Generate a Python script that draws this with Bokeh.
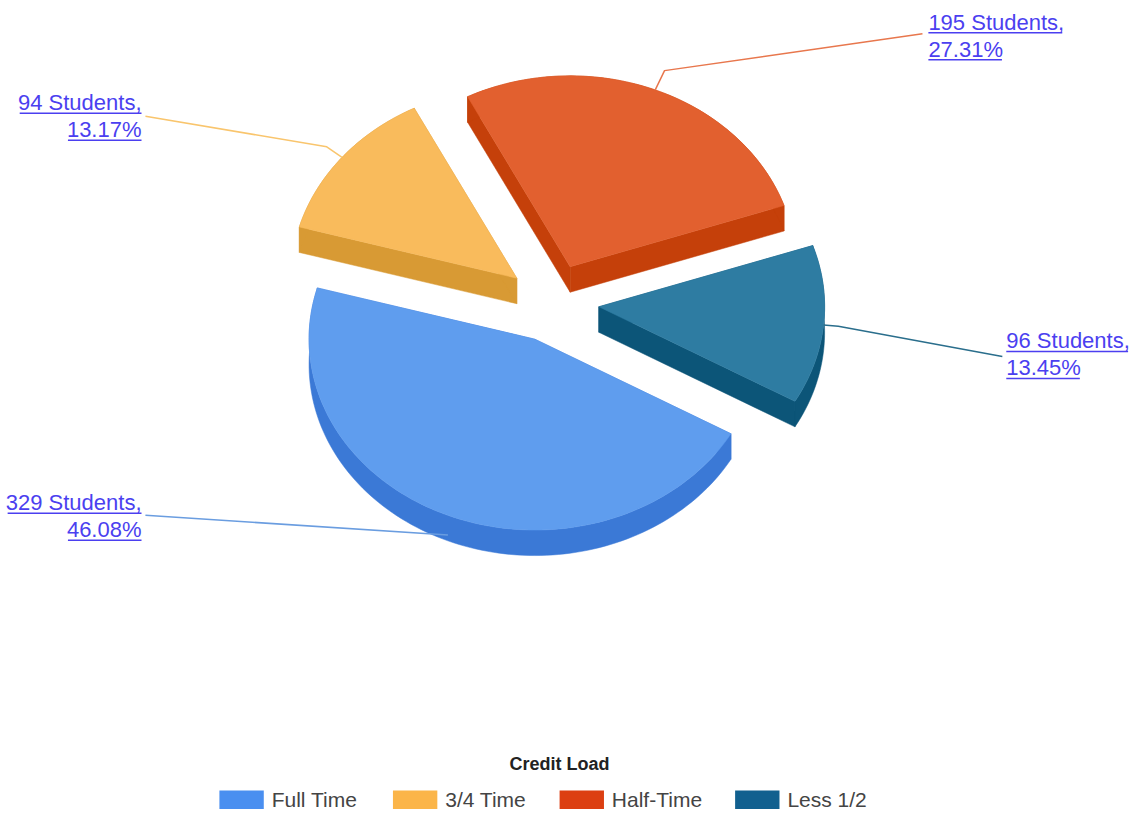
import math
from bokeh.plotting import figure
from bokeh.models import Range1d
from bokeh.embed import file_html
from bokeh.resources import INLINE
from bokeh.core.properties import value

# ---------------- data ----------------
categories = ["Full Time", "3/4 Time", "Half-Time", "Less 1/2"]
students = [329, 94, 195, 96]
legend_title = "Credit Load"

# ---------------- styles ----------------
top_colors = ["#5f9dee", "#f9bb5c", "#e2602f", "#2e7ca2"]
side_colors = ["#3b79d6", "#d89a34", "#c5400a", "#0c5578"]
legend_colors = ["#4a8ff0", "#fbb549", "#dc3f12", "#11608f"]
leader_colors = ["#6a9de0", "#f9c56d", "#e8774d", "#2a6e8c"]
label_color = "#4b3ff0"
FONT = "Liberation Sans"

# ---------------- layout ----------------
W, H = 1132, 810
CX, CY = 560, 308.5
R = 229
KY = 0.85
DEPTH = 26
EXPLODE = 47
START = 330.3  # math angle (deg) where first slice begins; slices run clockwise

label_x = [143, 143, 941, 1020]
label_y = [512, 104, 22, 347]          # centre of first text line
label_align = ["right", "right", "left", "left"]
join_pts = [(147, 525), (147, 118), (935, 34), (1016, 363)]
elbow_len = [0, 20, 25, 15]
anchor_dz = [20, 0, 0, 0]
LABEL_FS = 22
LINE_GAP = 27.5
UNDER = 11

legend_swatch_x = [222, 398, 567, 745]
LEG_Y = 815
TITLE_Y = 779
SW_W, SW_H = 45, 19

CHAR_W = {' ': 0.278, 'S': 0.667, 't': 0.278, 'u': 0.556, 'd': 0.556, 'e': 0.556,
          'n': 0.556, 's': 0.5, ',': 0.278, '.': 0.278, '%': 0.889}


def text_w(t, fs):
    return sum(CHAR_W.get(c, 0.556) for c in t) * fs


p = figure(width=W, height=H, x_range=Range1d(0, 1148), y_range=Range1d(826, 0),
           output_backend="svg", toolbar_location=None, min_border=0,
           x_axis_location=None, y_axis_location=None)
p.grid.visible = False
p.outline_line_color = None
p.background_fill_color = "white"
p.border_fill_color = "white"

total = sum(students)
slices = []
cum = 0.0
for i, n in enumerate(students):
    span = n / total * 360.0
    a0 = START - cum
    a1 = a0 - span
    mid = (a0 + a1) / 2
    ox = EXPLODE * math.cos(math.radians(mid))
    oy = -EXPLODE * KY * math.sin(math.radians(mid))
    slices.append(dict(i=i, a0=a0, a1=a1, mid=mid, ox=ox, oy=oy))
    cum += span


def pt(s, ang, r=R, dz=0.0):
    a = math.radians(ang)
    return (CX + s["ox"] + r * math.cos(a), CY + s["oy"] - r * KY * math.sin(a) + dz)


# back-to-front drawing
for s in sorted(slices, key=lambda d: d["oy"]):
    i = s["i"]
    steps = max(8, int(abs(s["a0"] - s["a1"]) / 1.5))
    angs = [s["a1"] + (s["a0"] - s["a1"]) * k / steps for k in range(steps + 1)]
    c = (CX + s["ox"], CY + s["oy"])
    wall_xs, wall_ys = [], []
    for a in (s["a0"], s["a1"]):
        rx, ry = pt(s, a)
        wall_xs.append([c[0], rx, rx, c[0]])
        wall_ys.append([c[1], ry, ry + DEPTH, c[1] + DEPTH])
    top_arc = [pt(s, a) for a in angs]
    bot_arc = [pt(s, a, dz=DEPTH) for a in reversed(angs)]
    wall_xs.append([q[0] for q in top_arc] + [q[0] for q in bot_arc])
    wall_ys.append([q[1] for q in top_arc] + [q[1] for q in bot_arc])
    p.patches(wall_xs, wall_ys, fill_color=side_colors[i], line_color=side_colors[i], line_width=0.5)
    p.patch([c[0]] + [q[0] for q in top_arc], [c[1]] + [q[1] for q in top_arc],
            fill_color=top_colors[i], line_color=top_colors[i], line_width=0.5)

# leader lines & labels
for s in slices:
    i = s["i"]
    ax, ay = pt(s, s["mid"], dz=anchor_dz[i])
    ex = ax + elbow_len[i] * math.cos(math.radians(s["mid"]))
    ey = ay - elbow_len[i] * KY * math.sin(math.radians(s["mid"]))
    jx, jy = join_pts[i]
    p.line([ax, ex, jx], [ay, ey, jy], line_color=leader_colors[i], line_width=1.5)
    pct = students[i] / total * 100
    lines = [f"{students[i]} Students,", f"{pct:.2f}%"]
    for k, t in enumerate(lines):
        cy = label_y[i] + k * LINE_GAP
        p.text(x=[label_x[i]], y=[cy], text=[t], text_font=value(FONT),
               text_font_size=f"{LABEL_FS}px", text_color=label_color,
               text_align=label_align[i], text_baseline="middle")
        w = text_w(t, LABEL_FS)
        if label_align[i] == "right":
            x0, x1 = label_x[i] - w, label_x[i]
        else:
            x0, x1 = label_x[i], label_x[i] + w
        p.line([x0, x1], [cy + UNDER, cy + UNDER], line_color=label_color, line_width=1.5)

# legend
p.text(x=[567], y=[TITLE_Y], text=[legend_title], text_font=value(FONT), text_font_size="18px",
       text_font_style="bold", text_color="#222222", text_align="center", text_baseline="middle")
for i, name in enumerate(categories):
    x0 = legend_swatch_x[i]
    p.quad(left=[x0], right=[x0 + SW_W], top=[LEG_Y - SW_H / 2], bottom=[LEG_Y + SW_H / 2],
           fill_color=legend_colors[i], line_color=None)
    p.text(x=[x0 + SW_W + 8], y=[LEG_Y], text=[name], text_font=value(FONT),
           text_font_size="21px", text_color="#444444", text_align="left", text_baseline="middle")

open("out.html", "w").write(file_html(p, INLINE))
